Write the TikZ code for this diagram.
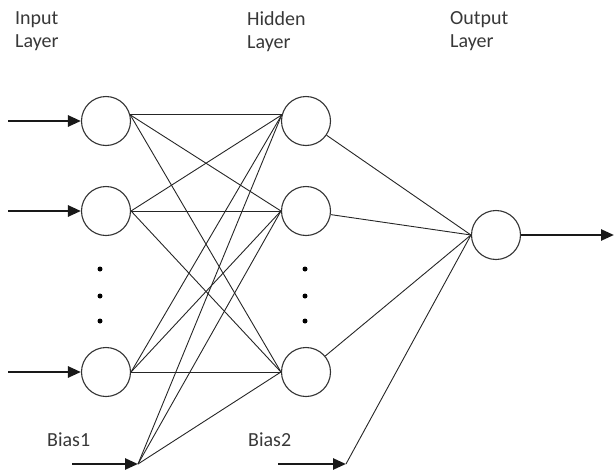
\documentclass[tikz,border=0pt]{standalone}
\usepackage{fontspec}
\setmainfont{Carlito}
\usetikzlibrary{arrows.meta}
\begin{document}
\begin{tikzpicture}[x=1pt,y=-1pt,
  neuron/.style={draw=black!80,line width=1.1pt,circle,minimum size=49pt,inner sep=0pt},
  link/.style={draw=black!85,line width=0.9pt},
  feed/.style={line width=2.6pt,draw=black!90,-{Triangle[length=13pt,width=11pt]}},
  lbl/.style={inner sep=0pt,font=\fontsize{20}{23}\selectfont,text=black!78,align=left},
  dot/.style={circle,fill=black,inner sep=0pt,minimum size=5pt}]
\useasboundingbox (0,0) rectangle (614,472);
% labels
\node[lbl,anchor=north west] (tin) at (15,11) {Input\\Layer};
\node[lbl,anchor=north west] (thid) at (247,11) {Hidden\\Layer};
\node[lbl,anchor=north west] (tout) at (450,11) {Output\\Layer};
\node[lbl,anchor=base west] (tb1) at (47,446) {Bias1};
\node[lbl,anchor=base west] (tb2) at (248,446) {Bias2};
% neurons
\node[neuron] (i1) at (106,121) {};
\node[neuron] (i2) at (106,211) {};
\node[neuron] (i3) at (106,372) {};
\node[neuron] (h1) at (306,121) {};
\node[neuron] (h2) at (306,211) {};
\node[neuron] (h3) at (306,372) {};
\node[neuron] (o) at (496,235) {};
% dots
\node[dot] (d1) at (100,269) {};
\node[dot] (d2) at (100,296) {};
\node[dot] (d3) at (100,321) {};
\node[dot] (d4) at (305,269) {};
\node[dot] (d5) at (305,296) {};
\node[dot] (d6) at (305,321) {};
% free coordinates
\coordinate (b1) at (138,464);
\coordinate (b2) at (346,464);
\coordinate (s1) at (8,121);
\coordinate (s2) at (8,211);
\coordinate (s3) at (8,372);
\coordinate (sb1) at (72,464);
\coordinate (sb2) at (278,464);
\coordinate (out) at (614,235);
% input -> hidden
\foreach \h/\a in {h1/166,h2/180,h3/180}{
  \draw[link] (i1.14) -- (\h.\a);
  \draw[link] (i2.east) -- (\h.\a);
  \draw[link] (i3.east) -- (\h.\a);
  \draw[link] (b1) -- (\h.\a);
}
% hidden -> output
\foreach \h in {h1,h2,h3}{
  \draw[link] (\h) -- (o.west);
}
\draw[link] (b2) -- (o.west);
% arrows
\draw[feed] (s1) -- (i1.west);
\draw[feed] (s2) -- (i2.west);
\draw[feed] (s3) -- (i3.west);
\draw[feed] (sb1) -- (b1);
\draw[feed] (sb2) -- (b2);
\draw[feed] (o.east) -- (out);
\end{tikzpicture}
\end{document}
